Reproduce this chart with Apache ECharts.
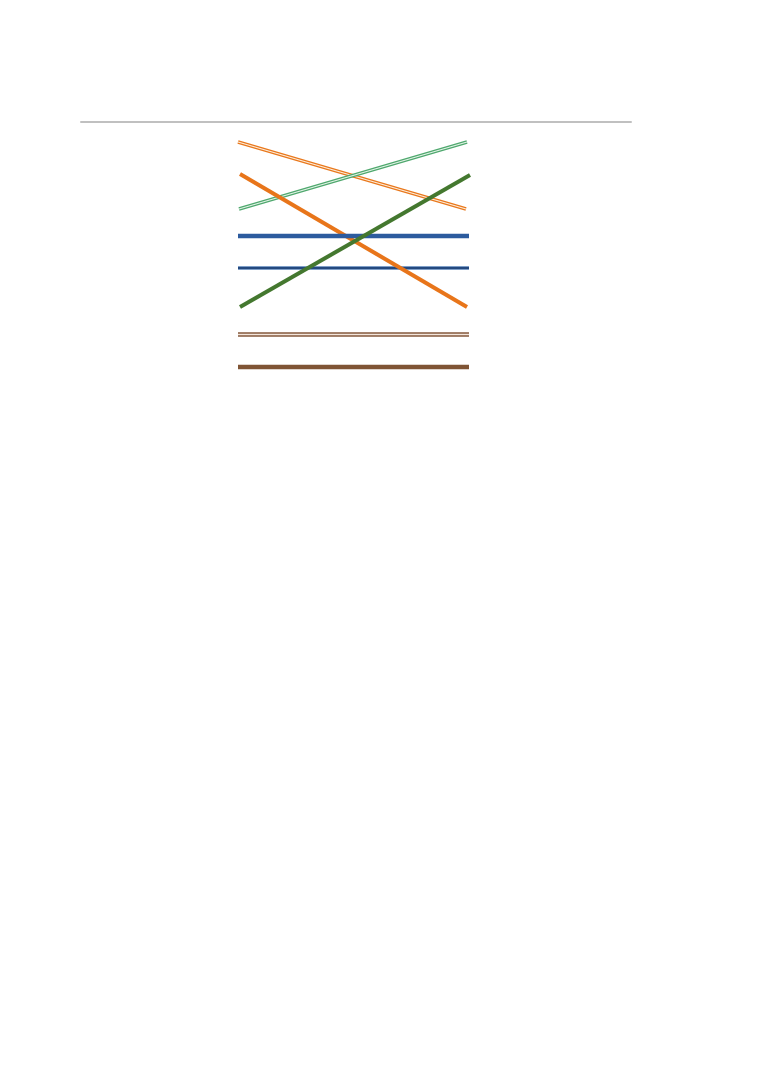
<!DOCTYPE html>
<html><head><meta charset="utf-8">
<style>html,body{margin:0;padding:0;background:#fff}#c{width:765px;height:1080px}</style>
<script src="https://cdn.jsdelivr.net/npm/echarts@6/dist/echarts.min.js"></script>
</head><body><div id="c"></div>
<script>
const orangeHollowX = [157, 385];
const orangeHollowY = [238, 171];
const orangeSolidX = [159, 386];
const orangeSolidY = [206, 73];
const greenHollowX = [158, 386];
const greenHollowY = [171, 238];
const greenSolidX = [159, 389];
const greenSolidY = [73, 205];
const blueSolidX = [157, 388];
const blueSolidY = [144, 144];
const blueHollowX = [157, 388];
const blueHollowY = [112, 112];
const brownHollowX = [157, 388];
const brownHollowY = [45.5, 45.5];
const brownSolidX = [157, 388];
const brownSolidY = [13, 13];

function pts(xs, ys) { return xs.map((x, i) => [x, ys[i]]); }
function line(xs, ys, color, width, z) {
  return { type: 'line', data: pts(xs, ys), symbol: 'none', silent: true, z: z, animation: false,
    lineStyle: { color: color, width: width, cap: 'butt' } };
}
const series = [
  line(brownSolidX, brownSolidY, '#7f5435', 4.5, 2),
  line(brownHollowX, brownHollowY, '#84583c', 4.5, 2),
  line(brownHollowX, brownHollowY, '#f3e6dc', 1.5, 3),
  line(blueHollowX, blueHollowY, '#7f9fc8', 4, 2),
  line(blueHollowX, blueHollowY, '#24497f', 2, 3),
  line(orangeHollowX, orangeHollowY, '#e9781c', 3.6, 2),
  line(orangeHollowX, orangeHollowY, '#fdeedd', 1.2, 3),
  line(greenHollowX, greenHollowY, '#4fa86e', 3.6, 4),
  line(greenHollowX, greenHollowY, '#e4f4e8', 1.2, 5),
  line(orangeSolidX, orangeSolidY, '#e8751a', 4, 6),
  line(blueSolidX, blueSolidY, '#2c5b9e', 4.5, 7),
  line(greenSolidX, greenSolidY, '#44782f', 4, 8)
];
const chart = echarts.init(document.getElementById('c'), null, { renderer: 'canvas' });
chart.setOption({
  backgroundColor: '#ffffff',
  animation: false,
  grid: { left: 81, top: 122, width: 550, height: 258, containLabel: false },
  xAxis: { type: 'value', position: 'top', min: 0, max: 550,
    axisLine: { show: true, onZero: false, lineStyle: { color: '#c0c0c0', width: 2 } },
    axisTick: { show: false }, axisLabel: { show: false }, splitLine: { show: false } },
  yAxis: { type: 'value', min: 0, max: 258,
    axisLine: { show: false }, axisTick: { show: false }, axisLabel: { show: false }, splitLine: { show: false } },
  series: series
});
</script></body></html>
